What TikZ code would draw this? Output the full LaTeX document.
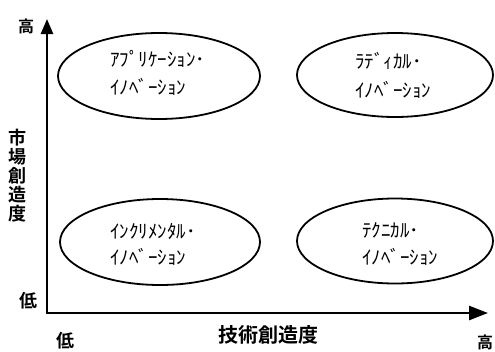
\documentclass[tikz,border=0pt]{standalone}
\usepackage{fontspec}
\setmainfont{Noto Sans CJK JP}[BoldFont={Noto Sans CJK JP Bold}]
\usetikzlibrary{arrows.meta,shapes.geometric}
\begin{document}
\begin{tikzpicture}[x=1pt,y=-1pt,
  axis/.style={line width=2.6pt, line join=miter},
  ell/.style={draw, ellipse, line width=1.8pt, inner sep=0pt},
  kana/.style={anchor=west, inner sep=0pt, font=\fontsize{19}{20}\selectfont},
  lab/.style={inner sep=0pt, font=\fontsize{18}{20}\selectfont\bfseries}]
\useasboundingbox (0,0) rectangle (495,351);
\coordinate (o) at (47,313);
\coordinate (ytop) at (47,19);
\coordinate (xend) at (488,313);
\draw[axis, {Triangle[length=15pt,width=12pt]}-{Triangle[length=19pt,width=14pt]}] (ytop) -- (o) -- (xend);

\node[ell, minimum width=202pt, minimum height=86pt] (e1) at (159,76) {};
\node[ell, minimum width=196pt, minimum height=84pt] (e2) at (395,75) {};
\node[ell, minimum width=200pt, minimum height=86pt] (e3) at (160,242) {};
\node[ell, minimum width=196pt, minimum height=85pt] (e4) at (395,241) {};

\node[kana] (t1a) at (110,59) {ｱﾌﾟﾘｹｰｼｮﾝ･};
\node[kana] (t1b) at (110,87) {ｲﾉﾍﾞｰｼｮﾝ};
\node[kana] (t2a) at (355,61) {ﾗﾃﾞｨｶﾙ･};
\node[kana] (t2b) at (355,90) {ｲﾉﾍﾞｰｼｮﾝ};
\node[kana] (t3a) at (110,231) {ｲﾝｸﾘﾒﾝﾀﾙ･};
\node[kana] (t3b) at (110,257) {ｲﾉﾍﾞｰｼｮﾝ};
\node[kana] (t4a) at (362,230) {ﾃｸﾆｶﾙ･};
\node[kana] (t4b) at (362,257) {ｲﾉﾍﾞｰｼｮﾝ};

\node[lab, font=\fontsize{16}{18}\selectfont\bfseries] (yhi) at (26,26) {高};
\node[lab] (ylo) at (28,301) {低};
\node[lab] (xlo) at (65,341) {低};
\node[lab, font=\fontsize{16}{18}\selectfont\bfseries] (xhi) at (485,342) {高};
\node[lab, font=\fontsize{20}{22}\selectfont\bfseries] (xt) at (268,335) {技術創造度};
\node[lab, align=center, font=\fontsize{18}{19}\selectfont\bfseries] (yt) at (18,176) {市\\場\\創\\造\\度};
\end{tikzpicture}
\end{document}
